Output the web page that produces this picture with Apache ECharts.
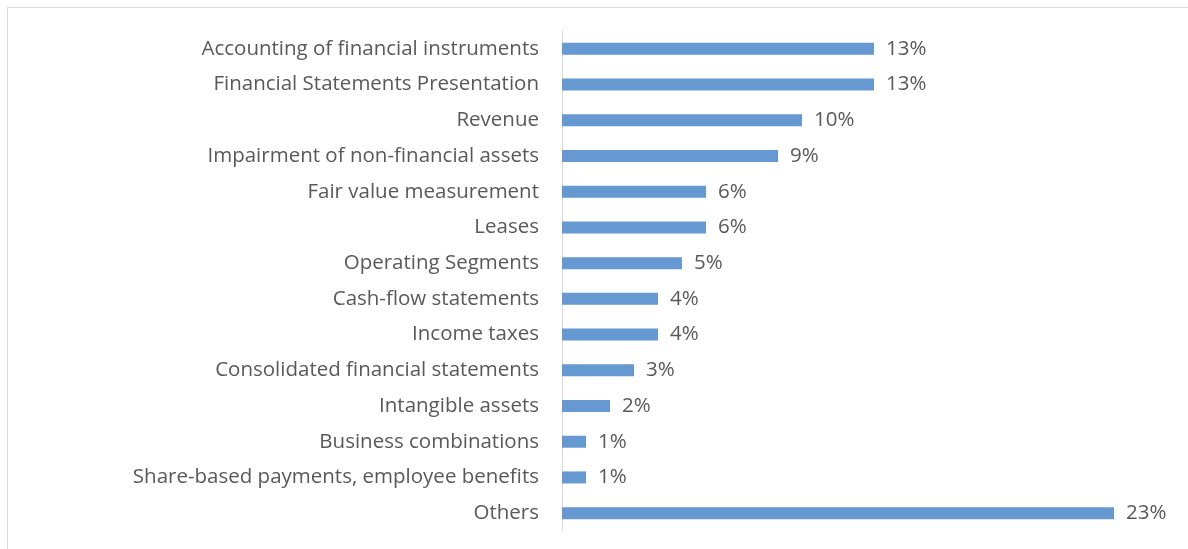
<!DOCTYPE html>
<html><head><meta charset="utf-8">
<script src="https://cdn.jsdelivr.net/npm/echarts@6/dist/echarts.min.js"></script>
<style>html,body{margin:0;padding:0;background:#fff}#c{width:1188px;height:549px}</style>
</head><body><div id="c"></div>
<script>
const categories = ["Accounting of financial instruments","Financial Statements Presentation","Revenue","Impairment of non-financial assets","Fair value measurement","Leases","Operating Segments","Cash-flow statements","Income taxes","Consolidated financial statements","Intangible assets","Business combinations","Share-based payments, employee benefits","Others"];
const values = [13,13,10,9,6,6,5,4,4,3,2,1,1,23];
const chart = echarts.init(document.getElementById('c'));
chart.setOption({
  animation:false,
  graphic:[{type:'rect',shape:{x:7.5,y:7.5,width:1300,height:700},style:{fill:null,stroke:'#d9d9d9',lineWidth:1}}],
  grid:{left:562,right:26,top:31,bottom:18},
  xAxis:{type:'value',min:0,max:25,show:false},
  yAxis:{type:'category',data:categories,inverse:true,
    axisLine:{lineStyle:{color:'#d9d9d9'}},axisTick:{show:false},
    axisLabel:{color:'#595959',fontSize:20.5,fontFamily:'Open Sans',margin:23}},
  series:[{type:'bar',data:values,barWidth:12,itemStyle:{color:'#6699d1'},
    label:{show:true,position:'right',distance:12,formatter:'{c}%',color:'#595959',fontSize:20.5,fontFamily:'Open Sans'}}]
});
</script></body></html>
